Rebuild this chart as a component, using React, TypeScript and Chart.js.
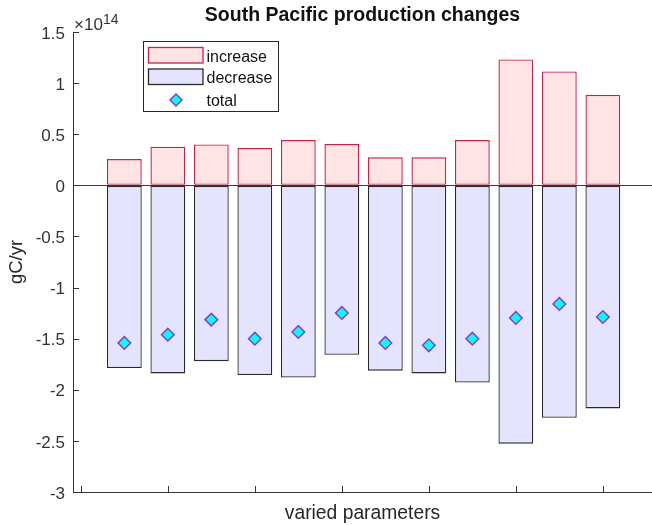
import React, { useEffect, useRef } from "react";
import { Chart, registerables } from "chart.js";

Chart.register(...registerables);

// Values are in units of 1e14 gC/yr (axis exponent shown as ×10^14)
const parameterPositions = [1, 2, 3, 4, 5, 6, 7, 8, 9, 10, 11, 12];
const increaseValues = [0.257, 0.378, 0.4, 0.365, 0.443, 0.404, 0.274, 0.274, 0.443, 1.232, 1.114, 0.886];
const decreaseValues = [-1.787, -1.84, -1.72, -1.855, -1.88, -1.657, -1.813, -1.84, -1.93, -2.527, -2.273, -2.182];
const totalValues = [-1.542, -1.461, -1.314, -1.5, -1.434, -1.248, -1.542, -1.565, -1.5, -1.297, -1.16, -1.288];
const legendLabels = ["increase", "decrease", "total"];
const exponentText = "14";
const titleText = "South Pacific production changes";
const xAxisLabel = "varied parameters";
const yAxisLabel = "gC/yr";

const FONT = "'Liberation Sans', Arial, Helvetica, sans-serif";
const AXIS_COLOR = "#333333";
const INC_FILL = "rgb(255,228,230)";
const INC_EDGE = "rgb(192,38,72)";
const DEC_FILL = "rgb(228,228,255)";
const DEC_EDGE = "#2a2a2a";
const TOT_FILL = "#00ffff";
const TOT_EDGE = "#8a3fc0";

function drawDiamond(ctx: CanvasRenderingContext2D, cx: number, cy: number, r: number) {
  ctx.beginPath();
  ctx.moveTo(cx - r, cy);
  ctx.lineTo(cx, cy - r);
  ctx.lineTo(cx + r, cy);
  ctx.lineTo(cx, cy + r);
  ctx.closePath();
  ctx.fillStyle = TOT_FILL;
  ctx.fill();
  ctx.strokeStyle = TOT_EDGE;
  ctx.lineWidth = 1.5;
  ctx.stroke();
}

const decorPlugin = {
  id: "decor",
  afterDatasetsDraw(chart: any) {
    const { ctx, chartArea, scales } = chart;
    const xs = scales.x;
    const ys = scales.y;
    ctx.save();
    ctx.strokeStyle = AXIS_COLOR;
    ctx.lineWidth = 1;
    // inward tick marks
    ys.ticks.forEach((t: any) => {
      const py = Math.round(ys.getPixelForValue(t.value)) + 0.5;
      ctx.beginPath();
      ctx.moveTo(chartArea.left, py);
      ctx.lineTo(chartArea.left + 6, py);
      ctx.stroke();
    });
    xs.ticks.forEach((t: any) => {
      if (Math.abs(t.value % 2) > 1e-9) return;
      const px = Math.round(xs.getPixelForValue(t.value)) + 0.5;
      ctx.beginPath();
      ctx.moveTo(px, chartArea.bottom);
      ctx.lineTo(px, chartArea.bottom - 6);
      ctx.stroke();
    });

    // exponent label
    ctx.fillStyle = AXIS_COLOR;
    ctx.textAlign = "left";
    ctx.textBaseline = "alphabetic";
    ctx.font = `17px ${FONT}`;
    ctx.fillText("×10", chartArea.left + 1, 29.5);
    ctx.font = `14px ${FONT}`;
    ctx.fillText(exponentText, 103, 23.5);

    // legend
    const bx = 143.5, by = 41.5, bw = 135, bh = 70;
    ctx.fillStyle = "#ffffff";
    ctx.fillRect(bx, by, bw, bh);
    ctx.strokeStyle = "#262626";
    ctx.lineWidth = 1;
    ctx.strokeRect(bx, by, bw, bh);

    ctx.fillStyle = INC_FILL;
    ctx.fillRect(148.5, 47.5, 54.5, 15.5);
    ctx.strokeStyle = INC_EDGE;
    ctx.lineWidth = 1.3;
    ctx.strokeRect(148.5, 47.5, 54.5, 15.5);

    ctx.fillStyle = DEC_FILL;
    ctx.fillRect(148.5, 69, 54.5, 15.5);
    ctx.strokeStyle = DEC_EDGE;
    ctx.strokeRect(148.5, 69, 54.5, 15.5);

    drawDiamond(ctx, 176, 100, 6);

    ctx.fillStyle = "#111111";
    ctx.font = `16px ${FONT}`;
    ctx.textBaseline = "alphabetic";
    ctx.fillText(legendLabels[0], 206.5, 62);
    ctx.fillText(legendLabels[1], 206.5, 83);
    ctx.fillText(legendLabels[2], 206.5, 105.5);
    ctx.restore();
  },
};

export default function App() {
  const canvasRef = useRef<HTMLCanvasElement | null>(null);

  useEffect(() => {
    const canvas = canvasRef.current;
    if (!canvas) return;
    const chart = new Chart(canvas, {
      type: "bar",
      data: {
        datasets: [
          {
            type: "scatter",
            label: legendLabels[2],
            data: parameterPositions.map((x, i) => ({ x, y: totalValues[i] })),
            pointStyle: "rectRot",
            pointRadius: 6.3,
            pointBackgroundColor: TOT_FILL,
            pointBorderColor: TOT_EDGE,
            pointBorderWidth: 1.5,
            order: 0,
          } as any,
          {
            type: "bar",
            label: legendLabels[0],
            data: parameterPositions.map((x, i) => ({ x, y: increaseValues[i] })),
            backgroundColor: INC_FILL,
            borderColor: INC_EDGE,
            borderWidth: 1.4,
            borderSkipped: false,
            grouped: false,
            barPercentage: 0.8,
            categoryPercentage: 1,
            order: 1,
          } as any,
          {
            type: "bar",
            label: legendLabels[1],
            data: parameterPositions.map((x, i) => ({ x, y: decreaseValues[i] })),
            backgroundColor: DEC_FILL,
            borderColor: DEC_EDGE,
            borderWidth: 1.3,
            borderSkipped: false,
            grouped: false,
            barPercentage: 0.8,
            categoryPercentage: 1,
            order: 2,
          } as any,
        ],
      },
      options: {
        animation: false,
        responsive: false,
        events: [],
        layout: { padding: 0, autoPadding: false },
        plugins: {
          legend: { display: false },
          tooltip: { enabled: false },
          title: {
            display: true,
            text: titleText,
            fullSize: false,
            color: "#111111",
            font: { family: FONT, size: 19.5, weight: "bold", lineHeight: 1.2 },
            padding: { top: 4.3, bottom: 4.3 },
          },
        },
        scales: {
          x: {
            type: "linear",
            min: -0.18,
            max: 13.13,
            offset: false,
            ticks: { display: false, stepSize: 2, includeBounds: false },
            grid: { display: false, drawTicks: false, offset: false },
            border: { display: true, color: AXIS_COLOR, width: 1 },
            title: {
              display: true,
              text: xAxisLabel,
              color: "#262626",
              font: { family: FONT, size: 19.3, lineHeight: 1.2 },
              padding: { top: 0, bottom: 0 },
            },
            afterFit: (scale: any) => {
              scale.height = 33;
            },
          },
          y: {
            type: "linear",
            min: -3,
            max: 1.5,
            ticks: {
              stepSize: 0.5,
              padding: 8,
              labelOffset: 2,
              color: AXIS_COLOR,
              font: { family: FONT, size: 17 },
              callback: (v: any) => String(Math.round(Number(v) * 10) / 10),
            },
            grid: {
              drawTicks: false,
              lineWidth: 1,
              color: (c: any) => (c.tick && Math.abs(c.tick.value) < 1e-9 ? "#3a3a3a" : "rgba(0,0,0,0)"),
            },
            border: { display: true, color: AXIS_COLOR, width: 1 },
            title: {
              display: true,
              text: yAxisLabel,
              color: "#262626",
              font: { family: FONT, size: 18.5, lineHeight: 1.2 },
              padding: { top: 5.7, bottom: 0 },
            },
            afterFit: (scale: any) => {
              scale.width = 73;
            },
          },
        },
      } as any,
      plugins: [decorPlugin],
    });
    return () => chart.destroy();
  }, []);

  return (
    <div style={{ position: "fixed", left: 0, top: 0, width: 652, height: 525, background: "#fff" }}>
      <canvas ref={canvasRef} width={652} height={525} style={{ width: 652, height: 525, display: "block" }} />
    </div>
  );
}
